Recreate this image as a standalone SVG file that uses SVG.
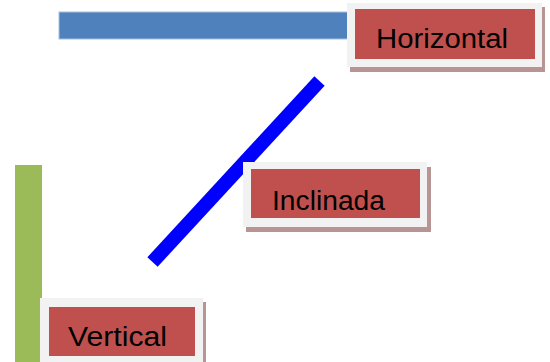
<svg xmlns="http://www.w3.org/2000/svg" width="550" height="362" viewBox="0 0 550 362">
<style>
.shadow{fill:#B89595}
.frame{fill:#F2F2F2}
.label{fill:#C0504D}
.txt{font-family:"Liberation Sans",Arial,sans-serif;font-size:27px;fill:#000}
</style>
<rect width="550" height="362" fill="#fff"/>
<g id="connectors">
<rect id="bar-horizontal" x="59" y="12" width="289" height="27" fill="#4F81BD" stroke="#A7C0DE" stroke-width="1"/>
<line id="bar-inclinada" x1="319.5" y1="81" x2="152.5" y2="262" stroke="#0000FF" stroke-width="14"/>
<rect id="bar-vertical" x="15" y="165" width="27" height="197" fill="#9BBB59"/>
</g>
<g id="horizontal">
<rect class="shadow" x="350" y="7" width="195" height="65"/>
<rect class="frame" x="347" y="3" width="195" height="64"/>
<rect class="label" x="355" y="9" width="180" height="50"/>
<text class="txt" x="376" y="48" textLength="132" lengthAdjust="spacingAndGlyphs">Horizontal</text>
</g>
<g id="inclinada">
<rect class="shadow" x="246" y="167" width="185" height="65"/>
<rect class="frame" x="243" y="162" width="184" height="65"/>
<rect class="label" x="251" y="169" width="169" height="49"/>
<text class="txt" x="272" y="210" textLength="113" lengthAdjust="spacingAndGlyphs">Inclinada</text>
</g>
<g id="vertical">
<rect class="shadow" x="43" y="302" width="163" height="62"/>
<rect class="frame" x="40" y="298" width="163" height="66"/>
<rect class="label" x="49" y="307" width="146" height="49"/>
<text class="txt" x="68" y="346" textLength="99" lengthAdjust="spacingAndGlyphs">Vertical</text>
</g>
</svg>
